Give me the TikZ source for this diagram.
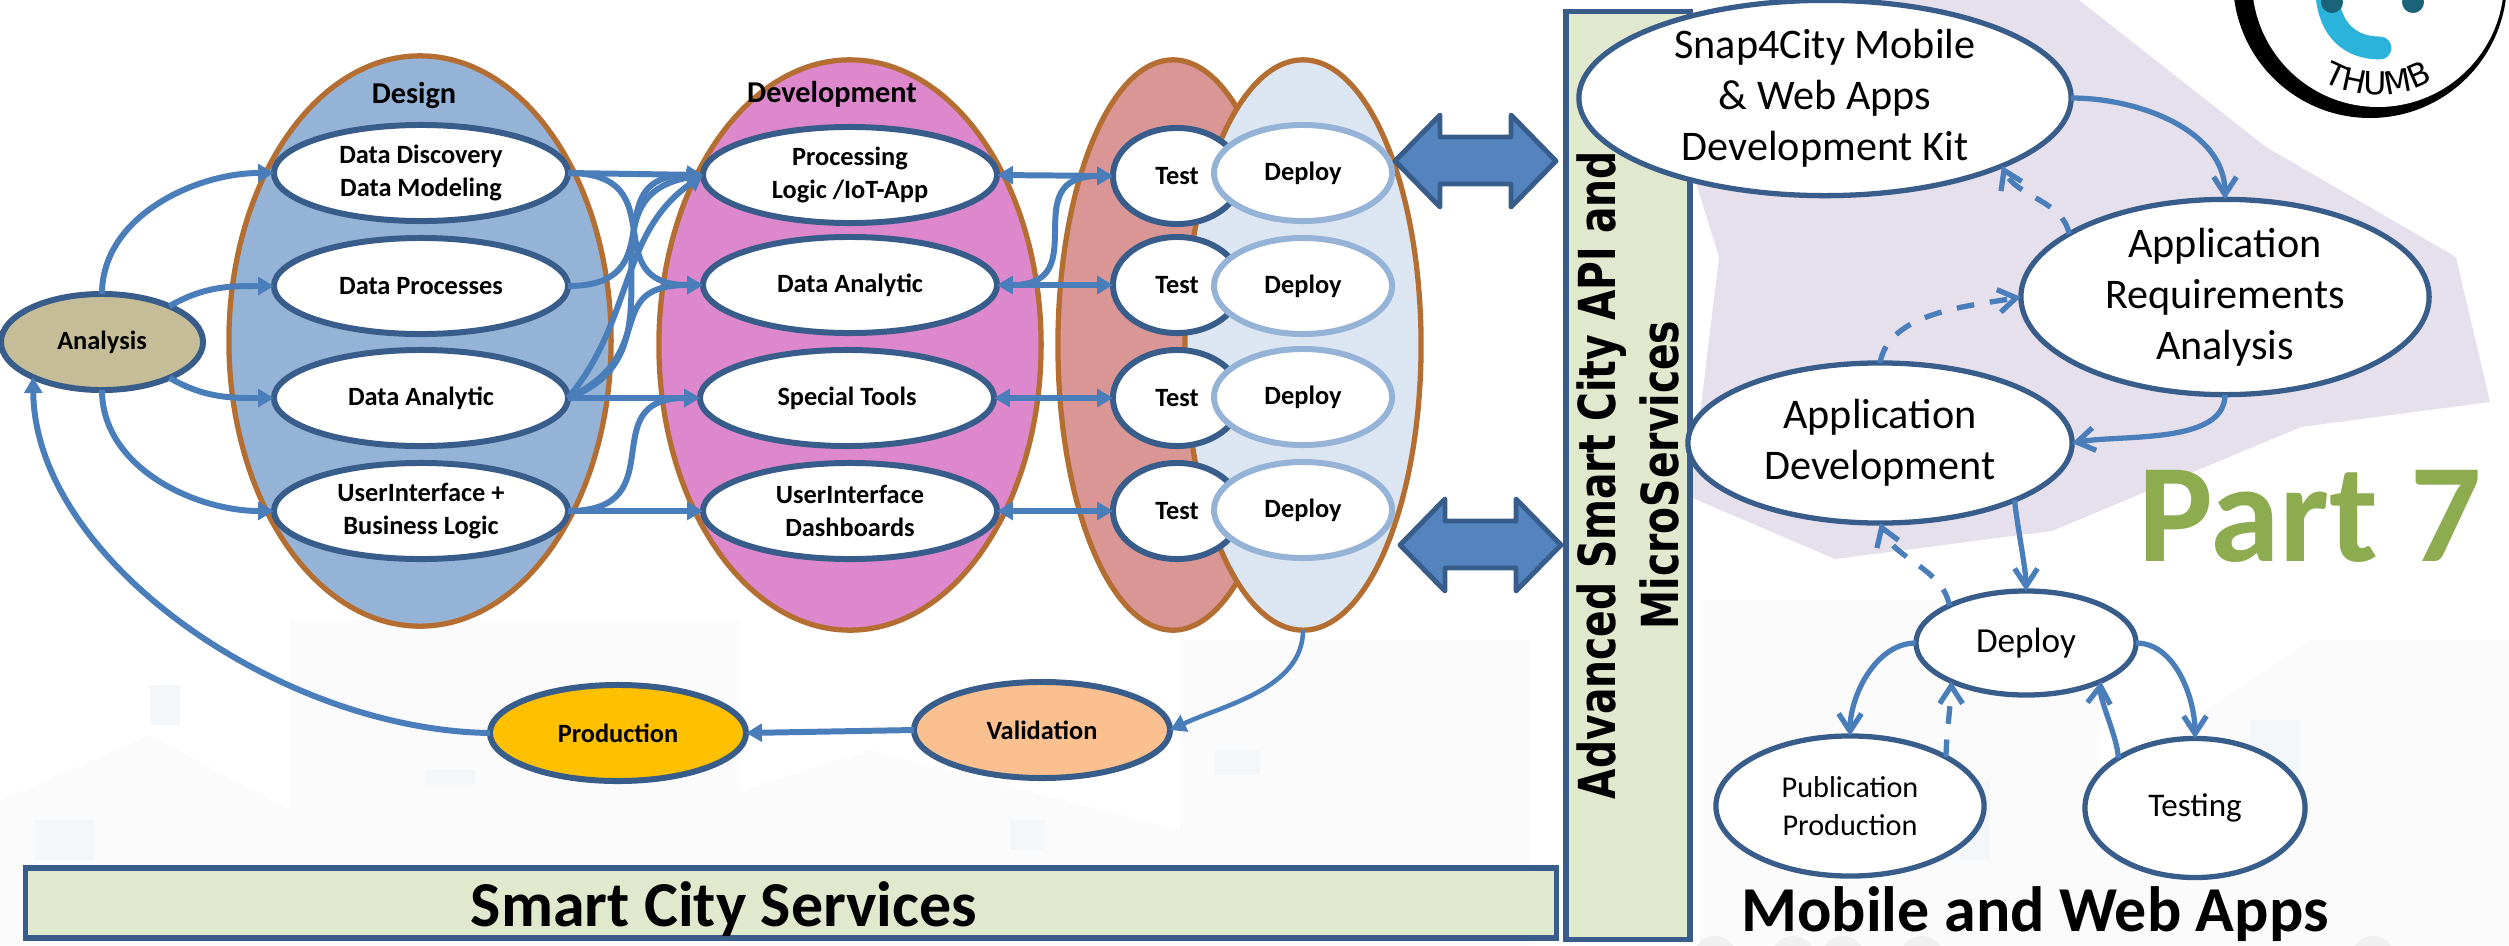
\documentclass[tikz,border=0pt]{standalone}
\usepackage{fontspec}
\setmainfont{Carlito}
\newfontfamily\apifont{DejaVu Sans}
\usetikzlibrary{shapes.geometric,arrows.meta,decorations.text}

\definecolor{nodeblue}{HTML}{385D8A}
\definecolor{flowblue}{HTML}{4A7EBB}
\definecolor{ringbrown}{HTML}{B46E32}
\definecolor{designfill}{HTML}{95B3D7}
\definecolor{devfill}{HTML}{DD88CC}
\definecolor{testfill}{HTML}{D99694}
\definecolor{deployfill}{HTML}{DCE6F2}
\definecolor{deployline}{HTML}{95B3D7}
\definecolor{barfill}{HTML}{E0E9CE}
\definecolor{planfill}{HTML}{E6E0EC}
\definecolor{partgreen}{HTML}{8DAC50}
\definecolor{cityfill}{HTML}{FBFBFC}
\definecolor{citywin}{HTML}{F4F7FA}
\definecolor{analysisfill}{HTML}{C4BD97}
\definecolor{prodfill}{HTML}{FFC000}
\definecolor{validfill}{HTML}{FAC090}
\definecolor{logocyan}{HTML}{2BB3DC}
\definecolor{logoteal}{HTML}{1B6378}

\tikzset{
  phase/.style={ellipse,draw=ringbrown,line width=1.5pt,inner sep=0pt,outer sep=0pt,minimum height=5.7cm},
  task/.style={ellipse,draw=nodeblue,fill=white,line width=1.7pt,inner sep=0pt,outer sep=0pt,align=center,
    minimum width=2.94cm,minimum height=.96cm,font=\fontsize{7.5}{9.3}\selectfont\bfseries},
  testell/.style={task,minimum width=1.28cm},
  deployell/.style={task,draw=deployline,minimum width=1.78cm},
  stage/.style={task,minimum width=2.56cm},
  appell/.style={ellipse,draw=nodeblue,fill=white,line width=1.5pt,inner sep=0pt,outer sep=0pt,align=center,
    font=\fontsize{12}{14.5}\selectfont},
  bar/.style={rectangle,draw=nodeblue,fill=barfill,line width=1.5pt,inner sep=0pt,outer sep=0pt},
  blockarrow/.style={draw=nodeblue,fill=flowblue!95!white,line width=1.4pt,line join=round},
  biglabel/.style={inner sep=0pt,font=\fontsize{18.2}{20}\selectfont\bfseries},
  flow/.style={draw=flowblue,line width=1.7pt,-{Triangle[length=4.5pt,width=5pt]}},
  twoway/.style={flow,{Triangle[length=4.5pt,width=5pt]}-{Triangle[length=4.5pt,width=5pt]}},
  cycle/.style={draw=flowblue,line width=1.5pt,-{Straight Barb[length=5pt,width=6.5pt]}},
  cycleback/.style={cycle,dash pattern=on 5pt off 4.5pt},
}

\begin{document}
\begin{tikzpicture}[x=0.01cm,y=-0.01cm]
  \useasboundingbox (0,0) rectangle (2509,945);

  % faint city behind everything
  \fill[cityfill] (0,800) -- (150,735) -- (290,810) -- (290,620) -- (740,620) -- (740,790) -- (870,750) -- (1180,830) -- (1180,640) -- (1530,640) -- (1530,945) -- (0,945) -- cycle;
  \fill[cityfill] (1700,600) -- (1960,600) -- (1960,650) -- (2100,650) -- (2100,780) -- (2310,640) -- (2509,640) -- (2509,945) -- (1700,945) -- cycle;
  \fill[citywin] (35,820) rectangle (95,860);
  \fill[citywin] (425,770) rectangle (475,785);
  \fill[citywin] (150,685) rectangle (180,725);
  \fill[citywin] (1010,820) rectangle (1045,850);
  \fill[citywin] (1215,750) rectangle (1260,775);
  \fill[citywin] (1960,780) rectangle (1990,860);
  \fill[citywin] (2250,720) rectangle (2300,780);
  \foreach \bx in {1715,1793,1843,1922,2373}
    \fill[gray!12] (\bx,958) circle (22);

  % the violet plan behind the app cycle
  \fill[planfill] (1770,0) -- (2079,0) -- (2266,147) -- (2456,257) -- (2490,402) -- (2301,427) -- (2052,531) -- (1835,559) -- (1690,497) -- (1719,257) -- (1696,183) -- cycle;

  % logo
  \begin{scope}
    \clip (0,0) rectangle (2509,945);
    \fill[black] (2370,-19) circle (137);
    \fill[white] (2378,-19) circle (126);
    \draw[line width=6.5pt,line cap=round,color=logocyan] (2327,-5) .. controls (2330,30) and (2350,48) .. (2380,48);
    \fill[logoteal] (2332,2) circle (11);
    \fill[logoteal] (2413,2) circle (11);
  \end{scope}
  \path[decorate,decoration={text along path,text align=center,text={|\apifont\fontsize{9}{10}\selectfont|THUMB}}]
    (2316,76) .. controls (2345,100) and (2405,102) .. (2440,76);

  % the four big rings
  \node[phase,fill=designfill,minimum width=3.82cm] (design) at (420,341) {};
  \node[phase,fill=devfill,minimum width=3.82cm] (develop) at (850,345) {};
  \node[phase,fill=testfill,minimum width=2.3cm] (testing) at (1173,345) {};
  \node[phase,fill=deployfill,minimum width=2.36cm] (deploying) at (1303,345) {};
  \node[font=\fontsize{8.6}{10}\selectfont\bfseries] (designlabel) at (414,95) {Design};
  \node[font=\fontsize{8.6}{10}\selectfont\bfseries] (devlabel) at (832,94) {Development};

  \node[task,minimum width=2.02cm,fill=analysisfill] (analysis) at (102,342) {Analysis};
  \node[task] (discovery) at (421,173) {Data Discovery\\Data Modeling};
  \node[task] (processes) at (421,286) {Data Processes};
  \node[task] (analytic) at (421,398) {Data Analytic};
  \node[task] (userbiz) at (421,511) {UserInterface +\\Business Logic};

  \node[task] (logic) at (850,175) {Processing\\Logic /IoT-App};
  \node[task] (devanalytic) at (850,285) {Data Analytic};
  \node[task] (tools) at (847,398) {Special Tools};
  \node[task] (dash) at (850,511) {UserInterface\\Dashboards};

  \foreach \i/\ty/\dy in {1/176/173,2/285/286,3/398/397,4/511/510} {
    \node[testell] (test\i) at (1177,\ty) {Test};
    \node[deployell] (deploy\i) at (1303,\dy) {Deploy};
  }

  \node[stage,fill=prodfill] (production) at (618,733) {Production};
  \node[stage,fill=validfill] (validation) at (1042,730) {Validation};

  % Analysis to Design
  \draw[flow] (analysis.north) to[out=90,in=180,looseness=.95] (discovery.west);
  \draw[flow] (analysis.28) to[out=30,in=180] (processes.west);
  \draw[flow] (analysis.-28) to[out=-30,in=180] (analytic.west);
  \draw[flow] (analysis.south) to[out=-90,in=180,looseness=.95] (userbiz.west);
  \draw[flow] (production.west) .. controls (280,730) and (35,560) .. (analysis.207);

  % Design to Development
  \draw[flow] (discovery.east) -- (logic.west);
  \draw[flow] (discovery.east) to[out=0,in=180,looseness=1.6] (devanalytic.west);
  \draw[flow] (processes.east) to[out=0,in=180,looseness=1.6] (logic.west);
  \draw[flow] (analytic.east) to[out=50,in=215,looseness=1] (logic.west);
  \draw[flow] (analytic.east) to[out=20,in=190,looseness=1.3] (logic.west);
  \draw[flow] (analytic.east) to[out=25,in=180,looseness=1.5] (devanalytic.west);
  \draw[flow] (analytic.east) -- (tools.west);
  \draw[flow] (userbiz.east) to[out=0,in=180,looseness=1.6] (tools.west);
  \draw[flow] (userbiz.east) -- (dash.west);

  % Development to Test
  \draw[twoway] (logic.east) -- (test1.west);
  \draw[twoway] (devanalytic.east) to[out=0,in=180,looseness=1.6] (test1.west);
  \draw[twoway] (devanalytic.east) -- (test2.west);
  \draw[twoway] (tools.east) -- (test3.west);
  \draw[twoway] (dash.east) -- (test4.west);

  \draw[flow,line width=1.3pt] (deploying.south) to[out=-90,in=25,looseness=.9] (validation.east);
  \draw[flow] (validation.west) -- (production.east);

  % the two fat arrows towards the API bar
  \foreach \ax/\ay in {1395/161,1400/545}
    \draw[blockarrow] (\ax,\ay) -- ++(45,-46) -- ++(0,22) -- ++(71,0) -- ++(0,-22) -- ++(45,46) -- ++(-45,46) -- ++(0,-23) -- ++(-71,0) -- ++(0,23) -- cycle;

  \node[bar,minimum width=15.3cm,minimum height=.7cm] (servicesbar) at (791,903) {};
  \node[biglabel] (serviceslabel) at (724,909) {Smart City Services};
  \node[bar,minimum width=1.24cm,minimum height=9.27cm] (apibar) at (1628,475.5) {};
  \node[rotate=90,xscale=.77,transform shape,align=center,font=\fontsize{14.5}{18}\selectfont\apifont\bfseries] (apilabel) at (1628,475) {Advanced Smart City API and\\MicroServices};

  % app cycle on the right
  \node[appell,minimum width=4.92cm,minimum height=1.88cm] (kit) at (1825,98) {Snap4City Mobile\\\& Web Apps\\Development Kit};
  \node[appell,minimum width=4.08cm,minimum height=1.62cm] (reqs) at (2225,297) {Application\\Requirements\\Analysis};
  \node[appell,minimum width=3.84cm,minimum height=1.6cm] (appdev) at (1880,443) {Application\\Development};
  \node[appell,minimum width=2.2cm,minimum height=1.04cm,font=\fontsize{10}{12}\selectfont] (appdeploy) at (2026,643) {Deploy};
  \node[appell,minimum width=2.68cm,minimum height=1.4cm,font=\fontsize{8.6}{10.9}\selectfont] (publish) at (1850,806) {Publication\\Production};
  \node[appell,minimum width=2.2cm,minimum height=1.39cm,font=\fontsize{9.4}{11}\selectfont] (tested) at (2195,808) {Testing};

  \draw[cycle] (kit.east) to[out=0,in=90,looseness=.95] (reqs.north);
  \draw[cycleback] (reqs.158) to[out=100,in=-65,looseness=.9] (kit.-21);
  \draw[cycle] (reqs.south) to[out=-90,in=10,looseness=.8] (appdev.east);
  \draw[cycleback] (appdev.north) to[out=80,in=190,looseness=.85] (reqs.west);
  \draw[cycle] (appdev.-23) to[out=-85,in=90,looseness=.6] (appdeploy.north);
  \draw[cycleback] (appdeploy.154) to[out=100,in=-70,looseness=.9] (appdev.south);
  \draw[cycle] (appdeploy.west) to[out=180,in=90,looseness=.9] (publish.north);
  \draw[cycleback] (publish.27) to[out=90,in=-90,looseness=.6] (appdeploy.-153);
  \draw[cycle] (tested.147) to[out=90,in=-95,looseness=.6] (appdeploy.-27);
  \draw[cycle] (appdeploy.east) to[out=0,in=90,looseness=.9] (tested.north);

  \node[biglabel] (appslabel) at (2035,914) {Mobile and Web Apps};
  \node[font=\fontsize{40}{44}\selectfont\bfseries,text=partgreen] (partlabel) at (2310,516) {Part 7};
\end{tikzpicture}
\end{document}
